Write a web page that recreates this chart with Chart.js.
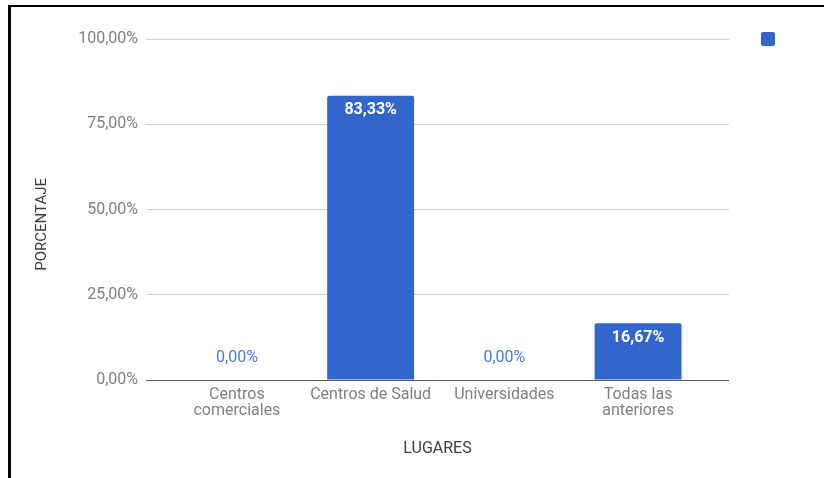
<!DOCTYPE html>
<html>
<head>
<meta charset="utf-8">
<script src="https://cdn.jsdelivr.net/npm/chart.js@4/dist/chart.umd.min.js"></script>
<style>
  html, body { margin: 0; padding: 0; background: #fff; }
  #wrap { position: relative; width: 824px; height: 478px; overflow: hidden; }
  #frame { position: absolute; left: 8px; top: 5px; right: -10px; bottom: -10px;
           border-left: 3px solid #000; border-top: 2px solid #000; pointer-events: none; }
  canvas { position: absolute; left: 0; top: 0; }
</style>
</head>
<body>
<div id="wrap">
  <canvas id="chart" width="824" height="478"></canvas>
  <div id="frame"></div>
</div>
<script>
// Lugares encuestados y porcentaje de respuestas
const categories = [['Centros', 'comerciales'], 'Centros de Salud', 'Universidades', ['Todas las', 'anteriores']];
const percentages = [0, 83.33, 0, 16.67];
const yTickValues = [0, 25, 50, 75, 100];
const seriesLabel = '';

const FONT = 'Roboto';
const BAR_BLUE = '#3366cc';

const fmtPct = v => v.toFixed(2).replace('.', ',') + '%';

// Etiquetas de valor sobre/dentro de cada barra
const valueLabels = {
  id: 'valueLabels',
  afterDatasetsDraw(chart) {
    const { ctx } = chart;
    const meta = chart.getDatasetMeta(0);
    ctx.save();
    ctx.textAlign = 'center';
    ctx.textBaseline = 'middle';
    meta.data.forEach((bar, i) => {
      const text = fmtPct(percentages[i]);
      const h = bar.base - bar.y;
      if (h > 30) {
        ctx.font = 'bold 16px ' + FONT;
        ctx.fillStyle = '#ffffff';
        ctx.fillText(text, bar.x, bar.y + 14.5);
      } else {
        ctx.font = '16px ' + FONT;
        ctx.fillStyle = '#4a7bdc';
        ctx.fillText(text, bar.x, bar.y - 22.5);
      }
    });
    ctx.restore();
  }
};

new Chart(document.getElementById('chart'), {
  type: 'bar',
  data: {
    datasets: [{
      label: seriesLabel,
      data: percentages.map((v, i) => ({ x: i, y: v })),
      backgroundColor: BAR_BLUE,
      borderWidth: 0,
      borderRadius: 2,
      barPercentage: 0.65,
      categoryPercentage: 1
    }]
  },
  options: {
    responsive: false,
    animation: false,
    layout: { padding: { left: 0, right: 33, top: 0, bottom: 0 } },
    plugins: {
      title: {
        display: true,
        text: '',
        font: { family: FONT, size: 12 },
        padding: { top: 0, bottom: 24.6 }
      },
      legend: {
        position: 'right',
        align: 'start',
        labels: {
          boxWidth: 14,
          boxHeight: 14,
          padding: 32,
          useBorderRadius: true,
          borderRadius: 2,
          font: { family: FONT, size: 12 }
        }
      },
      tooltip: { enabled: false }
    },
    scales: {
      x: {
        type: 'linear',
        offset: false,
        min: -0.68,
        max: 3.68,
        afterBuildTicks: s => { s.ticks = categories.map((c, i) => ({ value: i })); },
        afterFit: s => { s.height = 98; },
        grid: { display: false, drawTicks: false },
        border: { display: false },
        ticks: {
          autoSkip: false,
          maxRotation: 0,
          padding: 7,
          color: '#808080',
          font: { family: FONT, size: 16, lineHeight: 1 },
          callback: v => categories[v]
        },
        title: {
          display: true,
          text: 'LUGARES',
          color: '#3c3c3c',
          font: { family: FONT, size: 16 },
          padding: { top: 0, bottom: 19.4 }
        }
      },
      y: {
        min: 0,
        max: 100,
        afterBuildTicks: s => { s.ticks = yTickValues.map(v => ({ value: v })); },
        afterFit: s => { s.width = 146; },
        grid: {
          drawTicks: false,
          color: c => (c.tick && c.tick.value === 0) ? '#5a5a5a' : '#d0d0d0',
          lineWidth: 1
        },
        border: { display: false },
        ticks: {
          padding: 8,
          color: '#808080',
          font: { family: FONT, size: 16 },
          callback: v => fmtPct(v)
        },
        title: {
          display: true,
          text: 'PORCENTAJE        ',
          color: '#3c3c3c',
          font: { family: FONT, size: 15 },
          padding: { top: 33, bottom: 0 }
        }
      }
    }
  },
  plugins: [valueLabels]
});
</script>
</body>
</html>
